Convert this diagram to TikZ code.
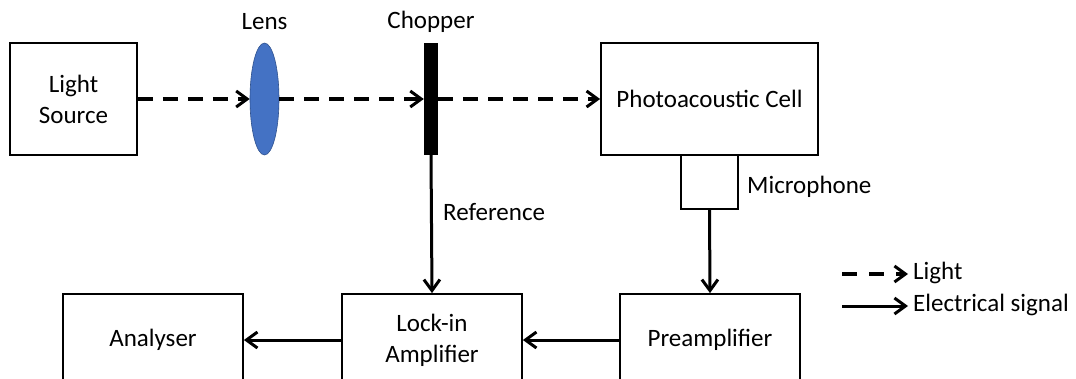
\documentclass[tikz,border=0pt]{standalone}
\usepackage{fontspec}
\setmainfont{Carlito}
\usetikzlibrary{arrows.meta,shapes.geometric}
\definecolor{lensblue}{HTML}{4472C4}
\definecolor{lensedge}{HTML}{2F528F}
\tikzset{
  box/.style={draw=black, line width=1.8pt, rectangle, inner sep=0pt, align=center},
  lbl/.style={inner sep=0pt, anchor=west},
  tip/.style={-{Straight Barb[length=11pt,width=16pt,line width=3pt]}},
  lightray/.style={tip, line width=3.5pt, dash pattern=on 15pt off 10pt},
  signal/.style={tip, line width=3pt},
}
\begin{document}
\begin{tikzpicture}[x=1pt,y=-1pt,font=\fontsize{25}{31}\selectfont]
\clip (0,0) rectangle (1076,378);
\fill[white] (0,0) rectangle (1076,378);
% nodes
\node[box, minimum width=127pt, minimum height=112pt] (ls) at (73.5,99) {Light\\Source};
\node[ellipse, fill=lensblue, draw=lensedge, line width=0.6pt, minimum width=29pt, minimum height=112pt, inner sep=0pt] (lens) at (264.5,99) {};
\node[rectangle, fill=black, minimum width=14pt, minimum height=112pt, inner sep=0pt] (chop) at (431,99) {};
\node[box, minimum width=217pt, minimum height=112pt] (cell) at (709.5,99) {Photoacoustic Cell};
\node[box, minimum width=57pt, minimum height=54pt] (mic) at (709.5,182) {};
\node[box, minimum width=180pt, minimum height=92pt] (pre) at (710,340) {Preamplifier};
\node[box, minimum width=180pt, minimum height=92pt] (lock) at (432,340) {Lock-in\\Amplifier};
\node[box, minimum width=180pt, minimum height=92pt] (ana) at (153,340) {Analyser};
% labels
\node[inner sep=0pt] (lenslbl) at (264.5,22) {Lens};
\node[inner sep=0pt] (choplbl) at (431,22) {Chopper};
\node[lbl] (reflbl) at (443,212) {Reference};
\node[lbl] (miclbl) at (747,187) {Microphone};
% connectors
\draw[lightray] (ls.east) -- (lens.west);
\draw[lightray] (lens.east) -- (chop.west);
\draw[lightray] (chop.east) -- (cell.west);
\draw[signal] (chop.south) -- (lock.north);
\draw[signal] (mic.south) -- (pre.north);
\draw[signal] (pre.west) -- (lock.east);
\draw[signal] (lock.west) -- (ana.east);
% legend
\coordinate (l1a) at (842,274);
\coordinate (l1b) at (908,274);
\coordinate (l2a) at (842,306);
\coordinate (l2b) at (908,306);
\draw[tip, line width=3.5pt, dash pattern=on 15pt off 12pt] (l1a) -- (l1b);
\draw[signal] (l2a) -- (l2b);
\node[lbl] (leglight) at (913,273) {Light};
\node[lbl] (legelec) at (913,305) {Electrical signal};
\end{tikzpicture}
\end{document}
